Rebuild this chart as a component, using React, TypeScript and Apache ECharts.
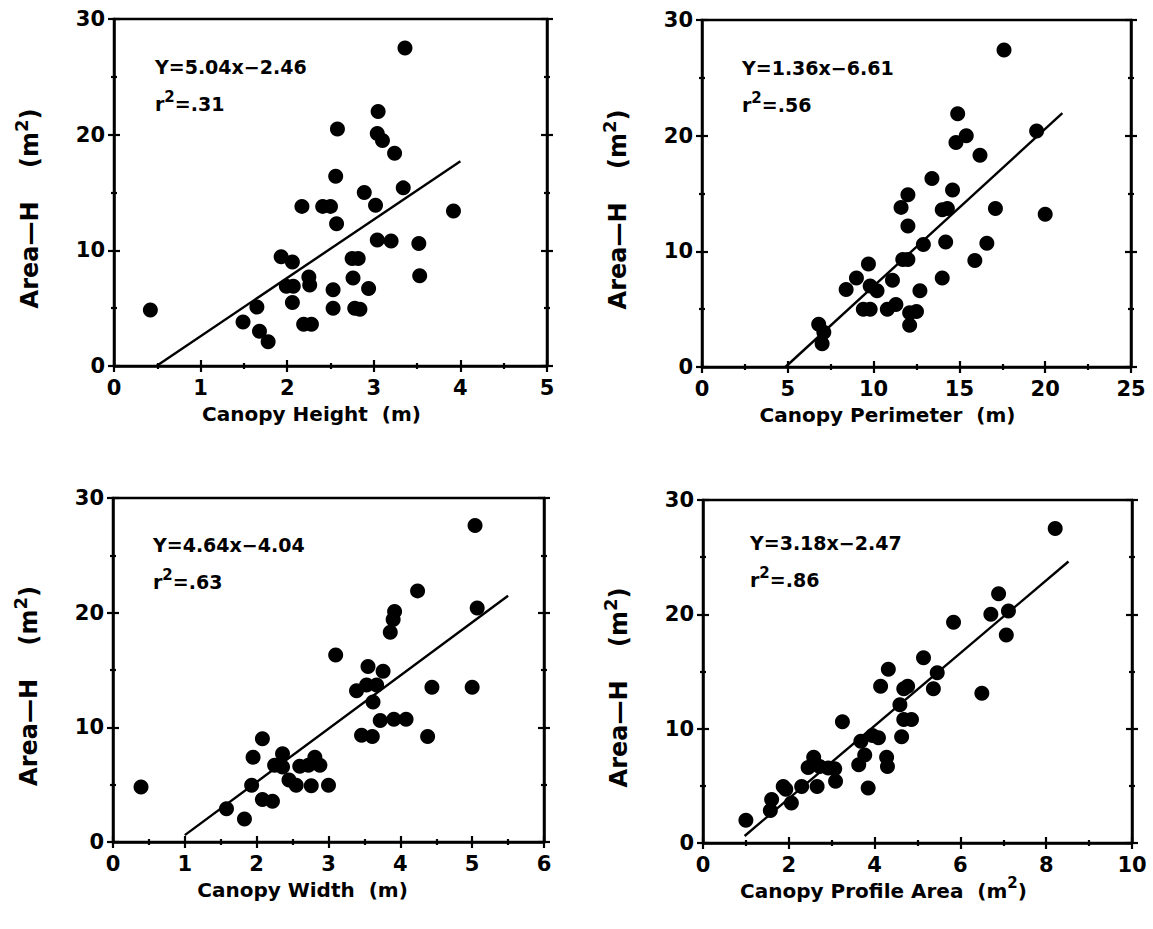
import React, { useEffect, useRef } from "react";
import * as echarts from "echarts";

// Panel 1: Canopy Height (m) vs Area-H (m2)
const heightX = [0.42, 3.36, 3.05, 2.58, 3.04, 3.1, 3.24, 2.56, 2.89, 3.34, 2.17, 2.41, 2.5, 3.02, 3.92, 2.57, 3.04, 3.2, 3.52, 1.93, 2.06, 2.75, 2.82, 2.25, 2.26, 2.76, 3.53, 1.99, 2.07, 2.53, 2.94, 2.06, 1.65, 2.53, 2.78, 2.84, 1.49, 2.19, 2.28, 1.68, 1.78];
const heightY = [4.84, 27.5, 22.0, 20.5, 20.1, 19.5, 18.4, 16.4, 15.0, 15.4, 13.8, 13.8, 13.8, 13.9, 13.4, 12.3, 10.9, 10.8, 10.6, 9.45, 9.0, 9.3, 9.3, 7.7, 7.0, 7.6, 7.8, 6.9, 6.9, 6.6, 6.7, 5.5, 5.1, 5.0, 5.0, 4.9, 3.8, 3.6, 3.6, 3.0, 2.1];

// Panel 2: Canopy Perimeter (m)
const perimX = [17.6, 14.9, 15.4, 14.8, 19.5, 16.2, 13.4, 14.6, 12.0, 11.6, 14.0, 14.3, 17.1, 20.0, 12.0, 12.9, 14.2, 16.6, 11.7, 12.0, 15.9, 9.7, 9.0, 11.1, 14.0, 8.4, 9.8, 10.2, 12.7, 9.4, 9.8, 10.8, 11.3, 12.1, 12.5, 12.1, 6.8, 7.1, 7.0];
const perimY = [27.4, 21.9, 20.0, 19.4, 20.4, 18.3, 16.3, 15.3, 14.9, 13.8, 13.6, 13.7, 13.7, 13.2, 12.2, 10.6, 10.8, 10.7, 9.3, 9.3, 9.2, 8.9, 7.7, 7.5, 7.7, 6.7, 7.0, 6.6, 6.6, 5.0, 5.0, 5.0, 5.4, 4.7, 4.8, 3.6, 3.7, 3.0, 2.0];

// Panel 3: Canopy Width (m)
const widthX = [5.04, 4.24, 5.07, 3.92, 3.9, 3.86, 3.1, 3.55, 3.76, 3.39, 3.53, 3.67, 4.44, 5.0, 3.62, 3.72, 3.91, 4.08, 3.46, 3.61, 4.38, 2.08, 1.95, 2.36, 2.25, 2.36, 2.6, 2.72, 2.81, 2.88, 2.45, 2.55, 2.76, 3.0, 1.93, 0.39, 2.08, 2.22, 1.58, 1.83];
const widthY = [27.6, 21.9, 20.4, 20.1, 19.4, 18.3, 16.3, 15.3, 14.9, 13.2, 13.7, 13.7, 13.5, 13.5, 12.2, 10.6, 10.7, 10.7, 9.3, 9.2, 9.2, 9.0, 7.4, 7.7, 6.7, 6.55, 6.6, 6.7, 7.4, 6.7, 5.4, 4.95, 4.9, 4.95, 4.95, 4.8, 3.7, 3.55, 2.9, 2.0];

// Panel 4: Canopy Profile Area (m2)
const profileX = [8.21, 6.89, 6.71, 7.12, 5.84, 7.07, 5.14, 4.32, 5.46, 4.14, 4.68, 4.77, 5.37, 6.5, 4.59, 3.25, 4.68, 4.86, 4.63, 3.68, 3.95, 4.09, 3.77, 4.28, 4.3, 3.63, 2.58, 2.45, 2.72, 2.92, 3.07, 3.09, 2.66, 2.3, 3.85, 1.87, 1.93, 2.06, 1.6, 1.57, 1.0];
const profileY = [27.5, 21.8, 20.0, 20.3, 19.3, 18.2, 16.2, 15.2, 14.9, 13.7, 13.5, 13.7, 13.5, 13.1, 12.1, 10.6, 10.8, 10.8, 9.3, 8.9, 9.4, 9.2, 7.7, 7.5, 6.7, 6.85, 7.5, 6.6, 6.7, 6.55, 6.5, 5.4, 4.95, 4.95, 4.8, 4.95, 4.7, 3.5, 3.8, 2.85, 2.0];

const xNames = ["Canopy Height  (m)", "Canopy Perimeter  (m)", "Canopy Width  (m)", "Canopy Profile Area  (m{sup|2})"];
const yName = "Area—H    (m{sup|2})";
const xMaxes = [5, 25, 6, 10];
const xIntervals = [1, 5, 1, 2];
const yMax = 30;
const yInterval = 10;
const slopes = [5.04, 1.36, 4.64, 3.18];
const intercepts = [-2.46, -6.61, -4.04, -2.47];
const r2Labels = [".31", ".56", ".63", ".86"];
const fitRanges = [[0.49, 4.0], [4.86, 21.0], [1.0, 5.5], [0.97, 8.52]];

const xsList = [heightX, perimX, widthX, profileX];
const ysList = [heightY, perimY, widthY, profileY];

const grids = [
  { left: 114, top: 19, width: 433, height: 347 },
  { left: 702, top: 20, width: 429, height: 347 },
  { left: 113, top: 498, width: 431, height: 344 },
  { left: 703, top: 500, width: 429, height: 343 },
];
const eqOffsets = [
  [41, 38],
  [40, 38],
  [40, 37],
  [47, 33],
];
const xNameShift = [38, 58, 52, 68];
const xNameGaps = [38, 38, 38, 32];

const FONT = "DejaVu Sans";
const BLACK = "#000";

function supStyle(size: number, raise: number) {
  return { sup: { fontSize: size, fontFamily: FONT, fontWeight: "bold", color: BLACK, fill: BLACK, verticalAlign: "bottom", padding: [0, 0, raise, 0] } };
}

function buildOption() {
  const xAxis: any[] = [];
  const yAxis: any[] = [];
  const series: any[] = [];
  const graphic: any[] = [];
  const tickStyle = { color: BLACK, width: 2.2 };

  grids.forEach((g, i) => {
    const xBase = {
      gridIndex: i,
      type: "value",
      min: 0,
      max: xMaxes[i],
      interval: xIntervals[i],
      splitLine: { show: false },
    };
    const yBase = {
      gridIndex: i,
      type: "value",
      min: 0,
      max: yMax,
      interval: yInterval,
      splitLine: { show: false },
    };
    const mainX = xAxis.length;
    xAxis.push({
      ...xBase,
      position: "bottom",
      name: xNames[i],
      nameLocation: "middle",
      nameGap: xNameGaps[i],
      nameTextStyle: { fontFamily: FONT, fontWeight: "bold", fontSize: 20, color: BLACK, rich: supStyle(15, 16), padding: [0, xNameShift[i], 0, 0] },
      axisLine: { show: true, onZero: false, lineStyle: { color: BLACK, width: 2.5 } },
      axisTick: { show: true, inside: false, length: 6, lineStyle: tickStyle },
      minorTick: { show: true, splitNumber: 2, length: 3, lineStyle: tickStyle },
      axisLabel: { fontFamily: FONT, fontWeight: "bold", fontSize: 21, color: BLACK, margin: 11 },
    });
    xAxis.push({
      ...xBase,
      position: "bottom",
      axisLine: { show: false, onZero: false },
      axisTick: { show: true, inside: true, length: 6, lineStyle: tickStyle },
      minorTick: { show: true, splitNumber: 2, length: 3, lineStyle: tickStyle },
      axisLabel: { show: false },
    });
    const mainY = yAxis.length;
    yAxis.push({
      ...yBase,
      position: "left",
      name: yName,
      nameLocation: "middle",
      nameGap: 66,
      nameRotate: 90,
      nameTextStyle: { fontFamily: FONT, fontWeight: "bold", fontSize: 24, color: BLACK, rich: supStyle(18, 18), padding: [0, 32, 0, 0] },
      axisLine: { show: true, onZero: false, lineStyle: { color: BLACK, width: 2.5 } },
      axisTick: { show: true, inside: false, length: 6, lineStyle: tickStyle },
      minorTick: { show: true, splitNumber: 2, length: 3, lineStyle: tickStyle },
      axisLabel: { fontFamily: FONT, fontWeight: "bold", fontSize: 21, color: BLACK, margin: 9 },
    });
    yAxis.push({
      ...yBase,
      position: "left",
      axisLine: { show: false, onZero: false },
      axisTick: { show: true, inside: true, length: 6, lineStyle: tickStyle },
      minorTick: { show: true, splitNumber: 2, length: 3, lineStyle: tickStyle },
      axisLabel: { show: false },
    });
    yAxis.push({
      ...yBase,
      position: "right",
      axisLine: { show: true, onZero: false, lineStyle: { color: BLACK, width: 2.5 } },
      axisTick: { show: true, inside: false, length: 6, lineStyle: tickStyle },
      minorTick: { show: true, splitNumber: 2, length: 3, lineStyle: tickStyle },
      axisLabel: { show: false },
    });
    yAxis.push({
      ...yBase,
      position: "right",
      axisLine: { show: false, onZero: false },
      axisTick: { show: true, inside: true, length: 6, lineStyle: tickStyle },
      minorTick: { show: true, splitNumber: 2, length: 3, lineStyle: tickStyle },
      axisLabel: { show: false },
    });

    series.push({
      type: "scatter",
      xAxisIndex: mainX,
      yAxisIndex: mainY,
      symbol: "circle",
      symbolSize: 15,
      itemStyle: { color: BLACK, opacity: 1 },
      data: xsList[i].map((x, k) => [x, ysList[i][k]]),
    });
    const [x0, x1] = fitRanges[i];
    series.push({
      type: "line",
      xAxisIndex: mainX,
      yAxisIndex: mainY,
      symbol: "none",
      lineStyle: { color: BLACK, width: 2.4 },
      data: [
        [x0, slopes[i] * x0 + intercepts[i]],
        [x1, slopes[i] * x1 + intercepts[i]],
      ],
    });

    const eqText = `Y=${slopes[i].toFixed(2)}x−${Math.abs(intercepts[i]).toFixed(2)}`;
    graphic.push({
      type: "text",
      left: g.left + eqOffsets[i][0],
      top: g.top + eqOffsets[i][1],
      style: { text: eqText, fontFamily: FONT, fontWeight: "bold", fontSize: 19, fill: BLACK },
    });
    graphic.push({
      type: "text",
      left: g.left + eqOffsets[i][0],
      top: g.top + eqOffsets[i][1] + 32,
      style: {
        text: `r{sup|2}=${r2Labels[i]}`,
        fontFamily: FONT,
        fontWeight: "bold",
        fontSize: 19,
        fill: BLACK,
        rich: supStyle(15, 15),
      },
    });
  });

  return {
    animation: false,
    backgroundColor: "#fff",
    grid: grids.map((g) => ({ ...g, containLabel: false, outerBoundsMode: "none", show: true, borderColor: BLACK, borderWidth: 2.5, backgroundColor: "transparent" })),
    xAxis,
    yAxis,
    series,
    graphic,
  };
}

export default function App() {
  const ref = useRef<HTMLDivElement>(null);
  useEffect(() => {
    document.body.style.margin = "0";
    if (!ref.current) return;
    const chart = echarts.init(ref.current, undefined, { renderer: "svg" });
    chart.setOption(buildOption() as any);
    return () => chart.dispose();
  }, []);
  return <div ref={ref} style={{ width: 1153, height: 929, position: "absolute", left: 0, top: 0, background: "#fff" }} />;
}
